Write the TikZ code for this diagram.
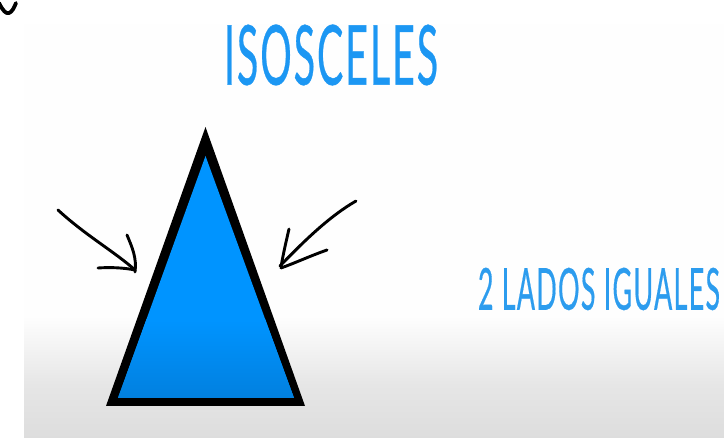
\documentclass[tikz,border=0pt]{standalone}
\usepackage{fontspec}
\usepackage{graphicx}
\setmainfont{Lato}[LetterSpace=5,FakeBold=0.6]
\definecolor{titleblue}{HTML}{1C97F3}
\definecolor{labelblue}{HTML}{2C9CEE}
\definecolor{triblue}{HTML}{0094FF}
\definecolor{tribluedark}{HTML}{0180DF}
\definecolor{greymid}{HTML}{E6E6E6}
\definecolor{greyend}{HTML}{DDDDDD}
\definecolor{panel}{HTML}{FEFEFE}
\tikzset{
  ink/.style={draw=black,line width=2.9pt,line cap=round,line join=round},
  lettering/.style={inner sep=0pt,outer sep=0pt,anchor=center},
}
\begin{document}
\begin{tikzpicture}[x=1pt,y=-1pt]
\useasboundingbox (0,0) rectangle (724,438);
\fill[white] (0,0) rectangle (724,438);
% background panel
\fill[panel] (24,24) rectangle (724,320);
\shade[top color=panel,bottom color=greymid] (24,316) rectangle (724,385);
\shade[top color=greymid,bottom color=greyend] (24,385) rectangle (724,438);
% corner mark
\draw[ink,line width=3.8pt] (-1,3) .. controls (3,11) and (6,14) .. (9,13) .. controls (12,12) and (14,8) .. (16,3);
% triangle
\fill[black] (205.5,127) -- (305,406) -- (106,406) -- cycle;
\def\innertri{(205.5,156) -- (294,398) -- (118,398) -- cycle}
\fill[triblue] \innertri;
\begin{scope}
  \clip \innertri;
  \shade[top color=triblue,bottom color=tribluedark] (100,320) rectangle (310,398);
\end{scope}
% arrows
\coordinate (la) at (58,210);
\coordinate (lt) at (135,270);
\draw[ink] (la) .. controls (85,235) and (115,252) .. (lt);
\draw[ink] (127,235) .. controls (132,247) and (137,258) .. (135,272);
\draw[ink] (98,268) .. controls (112,267) and (125,268) .. (lt);
\coordinate (ra) at (356,201);
\coordinate (rt) at (280,266);
\draw[ink] (ra) .. controls (330,216) and (305,240) .. (rt);
\draw[ink] (289,229) .. controls (286,242) and (283,255) .. (281,267);
\draw[ink] (327,250) .. controls (310,256) and (295,263) .. (281,268);
% texts
\node[lettering,text=titleblue] (title) at (331,55) {\resizebox{214pt}{60pt}{ISOSCELES}};
\node[lettering,text=labelblue] (label) at (599,289) {\resizebox{242pt}{42pt}{2 LADOS IGUALES}};
\end{tikzpicture}
\end{document}
